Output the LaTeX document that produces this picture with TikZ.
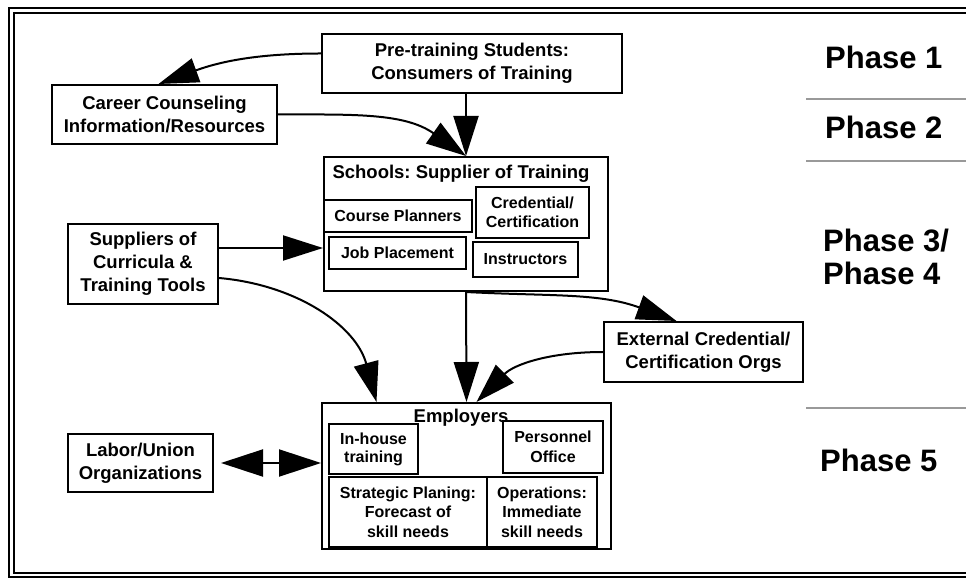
\documentclass[tikz,border=0pt]{standalone}
\usepackage{fontspec}
\setmainfont{Liberation Sans}
\usepackage{xcolor}
\usetikzlibrary{arrows.meta}
\frenchspacing

\tikzset{
	blok/.style={draw, line width=2pt, align=center, inner sep=0pt, font=\bfseries\fontsize{18.5}{23}\selectfont},
	subblok/.style={blok, font=\bfseries\fontsize{16}{19.5}\selectfont},
	titel/.style={inner sep=0pt, font=\bfseries\fontsize{18.5}{23}\selectfont},
	phase/.style={anchor=west, align=left, inner sep=0pt, font=\bfseries\fontsize{31}{33}\selectfont},
	link/.style={line width=2pt, -{Triangle[length=40pt,width=25pt]}},
	sep/.style={line width=2pt, gray!80},
}

\begin{document}
\begin{tikzpicture}[x=1pt,y=1pt]
			\useasboundingbox (0,0) rectangle (966,578);
			\draw[line width=1.6pt] (9,1) rectangle (990,570);
			\draw[line width=2.2pt] (14,5) rectangle (990,565);

			\node[blok, minimum width=300pt, minimum height=59pt] (pre) at (472,514.5) {Pre-training Students:\\Consumers of Training};
			\node[blok, minimum width=225pt, minimum height=59pt] (career) at (164.5,463.5) {Career Counseling\\Information/Resources};
			\node[blok, minimum width=284pt, minimum height=134pt] (schools) at (466,354) {};
			\node[titel] (schoolstitle) at (461,404) {Schools: Supplier of Training};
			\node[subblok, minimum width=148pt, minimum height=32pt] (planners) at (398,362) {Course Planners};
			\node[subblok, minimum width=113pt, minimum height=51pt] (credential) at (532.5,365.5) {Credential/\\Certification};
			\node[subblok, minimum width=137pt, minimum height=32pt] (jobpl) at (397.5,325) {Job Placement};
			\node[subblok, minimum width=105pt, minimum height=35pt] (instr) at (525.5,318.5) {Instructors};
			\node[blok, minimum width=150pt, minimum height=80pt] (supp) at (143,314) {Suppliers of\\Curricula \&\\Training Tools};
			\node[blok, minimum width=199pt, minimum height=60pt] (extc) at (703.5,226) {External Credential/\\Certification Orgs};
			\node[blok, minimum width=289pt, minimum height=146pt] (emp) at (466.5,102) {};
			\node[subblok, minimum width=89pt, minimum height=50pt, font=\bfseries\fontsize{16}{18}\selectfont] (inhouse) at (373.5,129) {In-house\\training};
			\node[subblok, minimum width=100pt, minimum height=52pt] (personnel) at (553,131) {Personnel\\Office};
			\node[subblok, minimum width=158pt, minimum height=70pt] (strat) at (408,66) {Strategic Planing:\\Forecast of\\skill needs};
			\node[subblok, minimum width=110pt, minimum height=70pt] (oper) at (542,66) {Operations:\\Immediate\\skill needs};
			\node[titel] (emptitle) at (461,160) {Employers};
			\node[blok, minimum width=145pt, minimum height=58pt] (labor) at (140.5,115) {Labor/Union\\Organizations};

			\node[phase] (ph1) at (825,521) {Phase 1};
			\node[phase] (ph2) at (825,451) {Phase 2};
			\node[phase] (ph34) at (823,321) {Phase 3/\\Phase 4};
			\node[phase] (ph5) at (820,118) {Phase 5};
			\draw[sep] (806,479) -- (966,479);
			\draw[sep] (806,417) -- (966,417);
			\draw[sep] (806,170) -- (966,170);

			\coordinate (sj) at ([yshift=16pt]supp.east);
			\draw[link] ([yshift=10pt]pre.west) to[out=180,in=20] ([xshift=-6pt]career.north);
			\draw[link] (schools.north |- pre.south) -- (schools.north);
			\draw[link] (career.east) to[out=0,in=145] (schools.north);
			\draw[link] (sj) -- (sj -| schools.west);
			\draw[link] ([yshift=-14pt]supp.east) to[out=-5,in=105] ([xshift=-90pt]emp.north);
			\draw[link] (schools.south) -- (emp.north);
			\draw[link] (schools.south) to[out=-3,in=160] ([xshift=-27pt]extc.north);
			\draw[link] (extc.west) to[out=180,in=45] ([xshift=10pt]emp.north);
			\draw[line width=2pt, {Triangle[length=42pt,width=27pt]}-{Triangle[length=42pt,width=27pt]}, shorten <=7pt] (labor.east) -- (labor.east -| emp.west);
		\end{tikzpicture}
\end{document}
